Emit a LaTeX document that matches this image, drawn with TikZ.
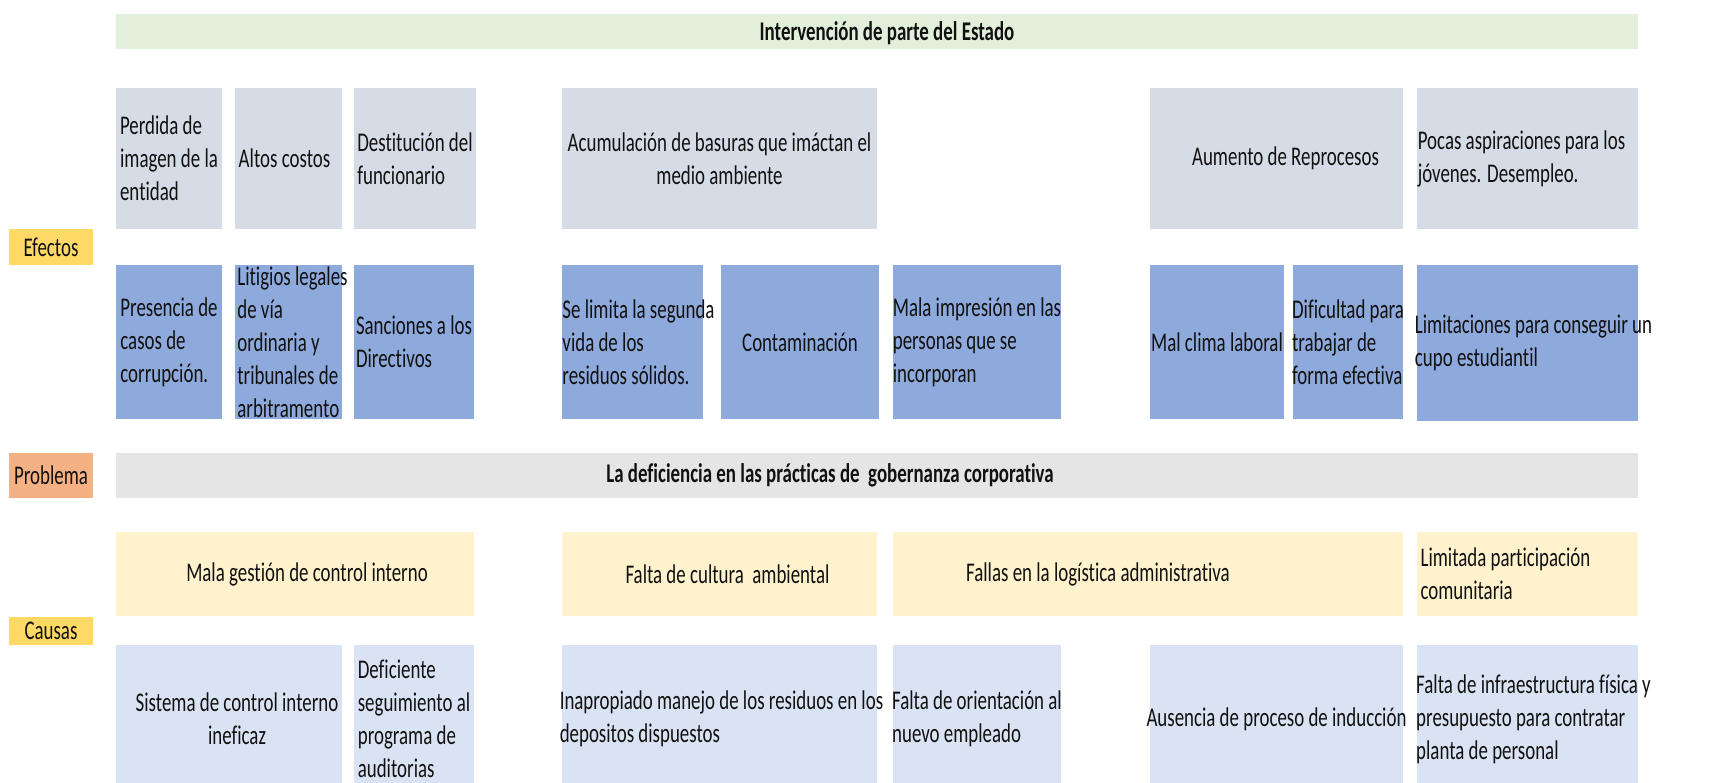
\documentclass[tikz,border=0pt]{standalone}
\usepackage{fontspec}
\setmainfont{Carlito}[FakeStretch=0.7, Ligatures=NoCommon]
\definecolor{titlec}{HTML}{E2EFDA}
\definecolor{effA}{HTML}{D6DCE5}
\definecolor{effB}{HTML}{8EA9DB}
\definecolor{probc}{HTML}{E5E5E5}
\definecolor{labY}{HTML}{FFD966}
\definecolor{labO}{HTML}{F4B183}
\definecolor{cauA}{HTML}{FFF2CC}
\definecolor{cauB}{HTML}{DAE3F3}
\definecolor{txtc}{HTML}{111111}
\newcommand\bx[8]{%
  \node[#1, minimum width={#5-#3}, minimum height={#6-#4}] (#2) at ({(#3+#5)/2},{(#4+#6)/2}) {};
  \node[txt, #7] (#2t) at (#2.center) {#8};}
\begin{document}
\begin{tikzpicture}[x=1pt,y=-1pt,
  fbox/.style={inner sep=0pt, outer sep=0pt, draw=none},
  tA/.style={fbox, fill=titlec},
  eA/.style={fbox, fill=effA},
  eB/.style={fbox, fill=effB},
  pB/.style={fbox, fill=probc},
  lY/.style={fbox, fill=labY},
  lO/.style={fbox, fill=labO},
  cA/.style={fbox, fill=cauA},
  cB/.style={fbox, fill=cauB},
  txt/.style={inner sep=0pt, text=txtc, font=\fontsize{27}{33}\selectfont},
  L/.style={align=left},
  C/.style={align=center},
  B/.style={font=\fontsize{27}{33}\selectfont\bfseries}]
\clip (0,0) rectangle (1732,783);
\fill[white] (0,0) rectangle (1732,783);
% title
\bx{tA}{title}{116}{14}{1638}{49}{B, xshift=10pt, yshift=-2pt}{Intervención de parte del Estado}
% side labels
\bx{lY}{efectos}{9}{229}{93}{265}{}{Efectos}
\bx{lO}{problema}{9}{453}{93}{498}{}{Problema}
\bx{lY}{causas}{9}{617}{93}{645}{}{Causas}
% effects row 1
\bx{eA}{e11}{116}{88}{222}{229}{L}{Perdida de\\imagen de la\\entidad}
\bx{eA}{e12}{235}{88}{342}{229}{xshift=-4pt}{Altos costos}
\bx{eA}{e13}{354}{88}{476}{229}{L}{Destitución del\\funcionario}
\bx{eA}{e14}{562}{88}{877}{229}{C}{Acumulación de basuras que imáctan el\\medio ambiente}
\bx{eA}{e15}{1150}{88}{1403}{229}{xshift=9pt}{Aumento de Reprocesos}
\bx{eA}{e16}{1417}{88}{1638}{229}{L, xshift=-6pt}{Pocas aspiraciones para los\\jóvenes. Desempleo.}
% effects row 2
\bx{eB}{e21}{116}{265}{222}{419}{L}{Presencia de\\casos de\\corrupción.}
\bx{eB}{e22}{235}{265}{342}{419}{L, xshift=4pt}{Litigios legales\\de vía\\ordinaria y\\tribunales de\\arbitramento}
\bx{eB}{e23}{354}{265}{474}{419}{L}{Sanciones a los\\Directivos}
\bx{eB}{e24}{562}{265}{703}{419}{L, xshift=6pt}{Se limita la segunda\\vida de los\\residuos sólidos.}
\bx{eB}{e25}{721}{265}{879}{419}{}{Contaminación}
\bx{eB}{e26}{893}{265}{1061}{419}{L}{Mala impresión en las\\personas que se\\incorporan}
\bx{eB}{e27}{1150}{265}{1284}{419}{}{Mal clima laboral}
\bx{eB}{e28}{1293}{265}{1403}{419}{L}{Dificultad para\\trabajar de\\forma efectiva}
\bx{eB}{e29}{1417}{265}{1638}{421}{L, xshift=6pt}{Limitaciones para conseguir un\\cupo estudiantil}
% problem
\bx{pB}{prob}{116}{453}{1638}{498}{B, xshift=-47pt}{La deficiencia en las prácticas de\ \ gobernanza corporativa}
% causes row 1
\bx{cA}{c11}{116}{532}{474}{616}{xshift=12pt}{Mala gestión de control interno}
\bx{cA}{c12}{562}{532}{877}{616}{xshift=8pt}{Falta de cultura\ \ ambiental}
\bx{cA}{c13}{893}{532}{1403}{616}{xshift=-50pt}{Fallas en la logística administrativa}
\bx{cA}{c14}{1417}{532}{1638}{616}{L, xshift=-22pt}{Limitada participación\\comunitaria}
% causes row 2
\bx{cB}{c21}{116}{645}{342}{793}{C, xshift=8pt}{Sistema de control interno\\ineficaz}
\bx{cB}{c22}{354}{645}{474}{793}{L}{Deficiente\\seguimiento al\\programa de\\auditorias}
\bx{cB}{c23}{562}{645}{877}{793}{L, xshift=2pt}{Inapropiado manejo de los residuos en los\\depositos dispuestos}
\bx{cB}{c24}{893}{645}{1061}{793}{L}{Falta de orientación al\\nuevo empleado}
\bx{cB}{c25}{1150}{645}{1403}{793}{}{Ausencia de proceso de inducción}
\bx{cB}{c26}{1417}{645}{1638}{793}{L, xshift=6pt}{Falta de infraestructura física y\\presupuesto para contratar\\planta de personal}
\end{tikzpicture}
\end{document}
